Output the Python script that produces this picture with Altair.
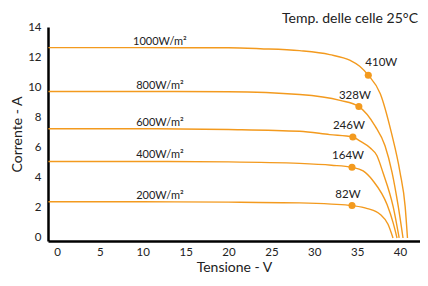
import altair as alt
import pandas as pd

# I-V curves (voltage V, current A)
volt_1000 = [-1, 10, 20, 23.7, 28.3, 31.8, 34.2, 35.3, 36.3, 37.7, 39.0, 40.0, 40.6, 40.87]
curr_1000 = [12.63, 12.63, 12.62, 12.56, 12.43, 12.17, 11.78, 11.4, 10.8, 9.57, 6.97, 4.36, 2.08, 0]
volt_800 = [-1, 10, 20, 28.3, 33.0, 35.2, 37.1, 38.25, 39.07, 39.8, 40.35]
curr_800 = [9.72, 9.72, 9.7, 9.52, 9.13, 8.72, 7.42, 6.12, 4.36, 2.08, 0]
volt_600 = [-1, 10, 20, 28.3, 31.8, 34.5, 35.3, 36.5, 37.3, 38.0, 39.2, 39.9]
curr_600 = [7.25, 7.25, 7.2, 7.08, 6.86, 6.7, 6.45, 5.99, 5.47, 4.36, 2.08, 0]
volt_400 = [-1, 10, 20, 28.3, 32.0, 34.4, 35.7, 36.85, 38.5, 39.2, 39.65]
curr_400 = [5.08, 5.08, 5.05, 4.95, 4.83, 4.69, 4.45, 3.8, 2.2, 1.0, 0]
volt_200 = [-1, 10, 20, 28.3, 32.0, 34.4, 36.2, 37.7, 38.6, 39.18]
curr_200 = [2.4, 2.4, 2.38, 2.33, 2.25, 2.15, 1.95, 1.56, 0.91, 0]

irradiance = ["1000W/m²", "800W/m²", "600W/m²", "400W/m²", "200W/m²"]
isc = [12.63, 9.72, 7.25, 5.08, 2.4]

mpp_v = [36.3, 35.2, 34.5, 34.4, 34.4]
mpp_i = [10.8, 8.72, 6.7, 4.69, 2.15]
mpp_label = ["410W", "328W", "246W", "164W", "82W"]

x_ticks = [0, 5, 10, 15, 20, 25, 30, 35, 40]
y_ticks = [0, 2, 4, 6, 8, 10, 12, 14]

title_text = ["Temp. delle celle 25°C"]

curves = [(volt_1000, curr_1000), (volt_800, curr_800), (volt_600, curr_600),
          (volt_400, curr_400), (volt_200, curr_200)]
rows = []
for name, (vs, cs) in zip(irradiance, curves):
    for i, (v, c) in enumerate(zip(vs, cs)):
        rows.append({"serie": name, "V": v, "I": c, "o": i})
df = pd.DataFrame(rows)
df_irr = pd.DataFrame({"serie": irradiance, "I": isc, "V": [12] * 5})
df_mpp = pd.DataFrame({"V": mpp_v, "I": mpp_i, "label": mpp_label})
df_title = pd.DataFrame({"t": title_text})

ORANGE = "#F39A1E"
FONT = "Lato"
W, H = 372, 214

xs = alt.Scale(domain=[-1.05, 42.33], nice=False, zero=False)
ys = alt.Scale(domain=[-0.2, 14], nice=False, zero=False)

x_axis = alt.Axis(values=x_ticks, title="Tensione - V", grid=False, ticks=False,
                  domainColor="black", domainWidth=2.5, labelFontSize=11.5,
                  labelColor="#222", labelPadding=5, titleFontSize=14,
                  titleFontWeight="normal", titleColor="#222", titlePadding=3,
                  labelFont=FONT, titleFont=FONT, labelOverlap=False)
y_axis = alt.Axis(values=y_ticks, title="Corrente - A", grid=False, ticks=False,
                  domainColor="black", domainWidth=2.5, labelFontSize=11.5,
                  labelColor="#222", labelPadding=7, titleFontSize=14,
                  titleFontWeight="normal", titleColor="#222", titlePadding=3,
                  labelFont=FONT, titleFont=FONT, labelOverlap=False)

X = alt.X("V:Q", scale=xs, axis=x_axis)
Y = alt.Y("I:Q", scale=ys, axis=y_axis)

lines = alt.Chart(df).mark_line(color=ORANGE, strokeWidth=1.4, interpolate="monotone").encode(
    x=X, y=Y, detail="serie:N", order="o:Q",
)

irr_text = alt.Chart(df_irr).mark_text(
    align="center", baseline="alphabetic", dy=-3, fontSize=11, font=FONT, color="#222"
).encode(x=X, y=Y, text="serie:N")

dots = alt.Chart(df_mpp).mark_circle(color=ORANGE, opacity=1, size=50).encode(x=X, y=Y)

mpp_text_a = alt.Chart(df_mpp).transform_filter("datum.label == '410W'").mark_text(
    align="center", baseline="middle", dx=13, dy=-12, fontSize=11.5, font=FONT, color="#222"
).encode(x=X, y=Y, text="label:N")
mpp_text_b = alt.Chart(df_mpp).transform_filter("datum.label != '410W'").mark_text(
    align="center", baseline="middle", dx=-4, dy=-11, fontSize=11.5, font=FONT, color="#222"
).encode(x=X, y=Y, text="label:N")

title = alt.Chart(df_title).mark_text(
    align="right", baseline="middle", fontSize=14, font=FONT, color="#222"
).encode(x=alt.value(W - 2), y=alt.value(-8), text="t:N")

chart = alt.layer(lines, irr_text, dots, mpp_text_a, mpp_text_b, title).properties(
    width=W, height=H,
    autosize=alt.AutoSizeParams(type="none"),
    padding={"left": 40, "top": 19, "right": 0, "bottom": 33},
).configure_view(stroke=None)

chart.save("out.html", embed_options={"renderer": "svg", "actions": False})
